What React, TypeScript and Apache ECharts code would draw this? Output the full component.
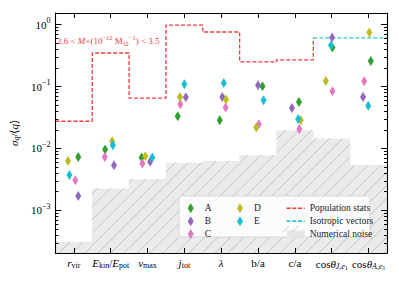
import React, { useEffect, useRef } from 'react';
import * as echarts from 'echarts';

// ---------- data ----------
const categoryLabels = [
  '{i|r}{s|vir}',
  '{i|E}{s|kin}{n|/}{i|E}{s|pot}',
  '{i|v}{s|max}',
  '{i|j}{s|tot}',
  '{i|λ}',
  '{n|b/a}',
  '{n|c/a}',
  '{n|cos}{i|θ}{si|J,e}{ss|1}',
  '{n|cos}{i|θ}{si|A,e}{ss|1}',
];
const seriesNames = ['A', 'B', 'C', 'D', 'E'];
const seriesColors = ['#2ca02c', '#9467bd', '#e377c2', '#bcbd22', '#17becf'];

const valuesA = [0.0073, 0.0096, 0.00716, 0.0332, 0.0286, 0.101, 0.0565, 0.426, 0.259];
const valuesB = [0.0017, 0.00538, 0.00608, 0.067, 0.068, 0.105, 0.0452, 0.617, 0.068];
const valuesC = [0.00308, 0.0073, 0.00573, 0.0518, 0.0458, 0.0247, 0.0207, 0.084, 0.122];
const valuesD = [0.0063, 0.0131, 0.0075, 0.068, 0.0617, 0.0218, 0.0286, 0.123, 0.743];
const valuesE = [0.00371, 0.0113, 0.00716, 0.109, 0.114, 0.06, 0.03, 0.464, 0.049];

// horizontal jitter of each point within its category (category units)
const jitterA = [0.12, -0.15, -0.16, -0.18, -0.04, 0.12, 0.11, 0.02, 0.06];
const jitterB = [0.12, 0.09, 0.07, 0.04, 0.03, 0.0, -0.08, 0.01, -0.15];
const jitterC = [0.04, -0.16, -0.14, -0.11, 0.12, 0.02, 0.12, 0.02, -0.12];
const jitterD = [-0.16, 0.04, -0.06, -0.12, 0.13, -0.05, 0.16, -0.16, 0.02];
const jitterE = [-0.12, 0.06, 0.13, 0.0, 0.07, 0.15, 0.09, -0.02, -0.01];

const populationStats = [0.0275, 0.348, 0.065, 0.98, 0.76, 0.25, 0.27];
const isotropicVectors = [0.61, 0.61];
const numericalNoise = [3.12e-4, 2.26e-3, 3.2e-3, 5.9e-3, 6.3e-3, 7.8e-3, 0.0197, 0.0145, 5.4e-3];

const yDecades = [-3, -2, -1, 0];
const yMinValue = 2.05e-4;
const yMaxValue = 1.54;

// ---------- helpers ----------
const L = Math.log10;
const yMin = L(yMinValue);
const yMax = L(yMaxValue);
const catIdx = categoryLabels.map((_, i) => i);
const minorTicks: number[] = [];
for (let d = -4; d <= 0; d++) {
  for (let k = 2; k <= 9; k++) {
    const v = L(k * Math.pow(10, d));
    if (v > yMin && v < yMax) minorTicks.push(v);
  }
}
const SERIF = 'Liberation Serif';
const diamond = 'path://M3,0L6,5L3,10L0,5Z';
const dashIcon = 'path://M0,0H4V1.6H0Z M5.6,0H9.6V1.6H5.6Z M11.2,0H15.2V1.6H11.2Z M16.8,0H18V1.6H16.8Z';

const xRich = {
  i: { fontFamily: SERIF, fontStyle: 'italic', fontSize: 11, color: '#000' },
  n: { fontFamily: SERIF, fontSize: 11, color: '#000' },
  s: { fontFamily: SERIF, fontSize: 8, color: '#000', padding: [4, 0, 0, 0] },
  si: { fontFamily: SERIF, fontStyle: 'italic', fontSize: 8, color: '#000', padding: [4, 0, 0, 0] },
  ss: { fontFamily: SERIF, fontSize: 5.5, color: '#000', padding: [8, 0, 0, 0] },
};
const yRich = {
  n: { fontFamily: SERIF, fontSize: 11, color: '#000' },
  p: { fontFamily: SERIF, fontSize: 8, color: '#000', padding: [0, 0, 8, 0] },
};

const valuesList = [valuesA, valuesB, valuesC, valuesD, valuesE];
const jitterList = [jitterA, jitterB, jitterC, jitterD, jitterE];

export default function App() {
  const ref = useRef<HTMLDivElement>(null);
  useEffect(() => {
    if (!ref.current) return;
    const chart = echarts.init(ref.current, null, { renderer: 'svg' });

    const popData: number[][] = [];
    populationStats.forEach((v, i) => {
      popData.push([i - 0.5, L(v)], [i + 0.5, L(v)]);
    });
    popData.push([populationStats.length - 0.5, L(isotropicVectors[0])]);
    const isoData = isotropicVectors.map((v, j) => {
      const i = populationStats.length + j;
      return [[i - 0.5, L(v)], [i + 0.5, L(v)]];
    }).flat();

    const scatterSeries = seriesNames.map((name, s) => ({
      type: 'scatter',
      name,
      symbol: diamond,
      symbolSize: [6, 10],
      itemStyle: { color: seriesColors[s], opacity: 1 },
      z: 3,
      data: valuesList[s].map((v, i) => [i + jitterList[s][i], L(v)]),
    }));

    const tickStyle = { color: '#000', width: 1 };
    const axisLine = { show: true, onZero: false, lineStyle: { color: '#000', width: 1.1 } };
    const noLine = { show: false, onZero: false };

    const option: any = {
      animation: false,
      grid: { left: 52, right: 12, top: 13, bottom: 29, containLabel: false },
      xAxis: [
        {
          type: 'value', min: -0.5, max: 8.5, position: 'bottom', z: 4,
          axisLine, splitLine: { show: false },
          axisTick: { show: true, inside: true, length: 5, customValues: catIdx, lineStyle: tickStyle },
          axisLabel: {
            customValues: catIdx, margin: 4,
            formatter: (v: number) => categoryLabels[Math.round(v)] ?? '',
            rich: xRich,
          },
        },
        {
          type: 'value', min: -0.5, max: 8.5, position: 'top', z: 4,
          axisLine, splitLine: { show: false },
          axisTick: { show: true, inside: true, length: 5, customValues: catIdx, lineStyle: tickStyle },
          axisLabel: { show: false, customValues: catIdx },
        },
      ],
      yAxis: [
        {
          type: 'value', min: yMin, max: yMax, position: 'left', z: 4,
          axisLine, splitLine: { show: false },
          axisTick: { show: true, inside: true, length: 6, customValues: yDecades, lineStyle: tickStyle },
          axisLabel: {
            customValues: yDecades, margin: 5,
            formatter: (v: number) => `{n|10}{p|${Math.round(v) === 0 ? '0' : '−' + Math.abs(Math.round(v))}}`,
            rich: yRich,
          },
          name: '{i|σ}{s|q}{n|/⟨}{i|q}{n|⟩}',
          nameLocation: 'middle',
          nameGap: 28,
          nameTextStyle: {
            rich: {
              i: { fontFamily: SERIF, fontStyle: 'italic', fontSize: 11, color: '#000' },
              n: { fontFamily: SERIF, fontSize: 11, color: '#000' },
              s: { fontFamily: SERIF, fontStyle: 'italic', fontSize: 8, color: '#000', padding: [5, 0, 0, 0] },
            },
          },
        },
        {
          type: 'value', min: yMin, max: yMax, position: 'left', z: 4,
          axisLine: noLine, splitLine: { show: false },
          axisTick: { show: true, inside: true, length: 3, customValues: minorTicks, lineStyle: tickStyle },
          axisLabel: { show: false, customValues: minorTicks },
        },
        {
          type: 'value', min: yMin, max: yMax, position: 'right', z: 4,
          axisLine, splitLine: { show: false },
          axisTick: { show: true, inside: true, length: 6, customValues: yDecades, lineStyle: tickStyle },
          axisLabel: { show: false, customValues: yDecades },
        },
        {
          type: 'value', min: yMin, max: yMax, position: 'right', z: 4,
          axisLine: noLine, splitLine: { show: false },
          axisTick: { show: true, inside: true, length: 3, customValues: minorTicks, lineStyle: tickStyle },
          axisLabel: { show: false, customValues: minorTicks },
        },
      ],
      legend: [
        {
          orient: 'vertical', left: 182.7, top: 198.3, itemWidth: 18, itemHeight: 10, itemGap: 2.85,
          textStyle: { fontFamily: SERIF, fontSize: 9.5, color: '#222', lineHeight: 10 },
          data: ['A', 'B', 'C'].map((n) => ({ name: n, icon: diamond })), z: 6,
        },
        {
          orient: 'vertical', left: 232, top: 198.3, itemWidth: 18, itemHeight: 10, itemGap: 2.85,
          textStyle: { fontFamily: SERIF, fontSize: 9.5, color: '#222', lineHeight: 10 },
          data: ['D', 'E'].map((n) => ({ name: n, icon: diamond })), z: 6,
        },
        {
          orient: 'vertical', left: 281.7, top: 198.3, itemWidth: 18, itemHeight: 10, itemGap: 2.85,
          textStyle: { fontFamily: SERIF, fontSize: 9.5, color: '#222', lineHeight: 10 },
          data: [
            { name: 'Population stats', icon: dashIcon },
            { name: 'Isotropic vectors', icon: dashIcon },
            { name: 'Numerical noise', icon: 'path://M0,0H18V7H0Z' },
          ], z: 6,
        },
      ],
      graphic: [
        {
          type: 'rect', z: 5, silent: true,
          shape: { x: 179, y: 196, width: 191, height: 41, r: 2 },
          style: { fill: 'rgba(255,255,255,0.85)', stroke: '#cfcfcf', lineWidth: 0.8 },
        },
        {
          type: 'line', z: 7, silent: true,
          shape: { x1: 283, y1: 232, x2: 289.5, y2: 225.5 },
          style: { stroke: '#aaa', lineWidth: 0.6 },
        },
        {
          type: 'line', z: 7, silent: true,
          shape: { x1: 292, y1: 232, x2: 298.5, y2: 225.5 },
          style: { stroke: '#aaa', lineWidth: 0.6 },
        },
        {
          type: 'text', z: 7, silent: true, x: 57, y: 41,
          style: {
            text: '{n|2.6 < }{i|M}{n|×(10}{p|−12}{n| M}{b|⊙}{p|−1}{n|) < 3.5}',
            verticalAlign: 'middle',
            rich: {
              n: { fontFamily: SERIF, fontSize: 9, fill: '#ee3b3b' },
              i: { fontFamily: SERIF, fontStyle: 'italic', fontSize: 9, fill: '#ee3b3b' },
              p: { fontFamily: SERIF, fontSize: 6.5, fill: '#ee3b3b', padding: [0, 0, 7, 0] },
              b: { fontFamily: SERIF, fontSize: 6.5, fill: '#ee3b3b', padding: [5, 0, 0, 0] },
            },
          },
        },
      ],
      series: [
        {
          type: 'custom',
          name: 'Numerical noise',
          z: 1,
          itemStyle: { color: '#e6e6e6' },
          data: numericalNoise.map((v, i) => [i, L(v)]),
          encode: { x: 0, y: 1 },
          renderItem: (params: any, api: any) => {
            const i = api.value(0);
            const v = api.value(1);
            const tl = api.coord([i - 0.5, v]);
            const br = api.coord([i + 0.5, yMin]);
            const x0 = tl[0], y0 = tl[1], x1 = br[0], y1 = br[1];
            const children: any[] = [
              { type: 'rect', shape: { x: x0 - 0.3, y: y0, width: x1 - x0 + 0.6, height: y1 - y0 }, style: { fill: '#ebebeb' } },
            ];
            const sp = 13;
            for (let c = Math.ceil((x0 + y0) / sp) * sp; c <= x1 + y1; c += sp) {
              const xa = Math.max(x0, c - y1);
              const xb = Math.min(x1, c - y0);
              if (xb > xa) {
                children.push({
                  type: 'line',
                  shape: { x1: xa, y1: c - xa, x2: xb, y2: c - xb },
                  style: { stroke: '#a8a8a8', lineWidth: 0.6 },
                });
              }
            }
            return { type: 'group', children };
          },
        },
        {
          type: 'line', name: 'Population stats', z: 2, symbol: 'none',
          itemStyle: { color: '#ee3b3b' },
          lineStyle: { color: '#ee3b3b', width: 1.3, type: [4, 2] },
          data: popData,
        },
        {
          type: 'line', name: 'Isotropic vectors', z: 2, symbol: 'none',
          itemStyle: { color: '#2cc6c6' },
          lineStyle: { color: '#2cc6c6', width: 1.3, type: [4, 2] },
          data: isoData,
        },
        ...scatterSeries,
      ],
    };
    chart.setOption(option);
    return () => chart.dispose();
  }, []);
  return <div ref={ref} style={{ position: 'absolute', left: 0, top: 0, width: 399, height: 282 }} />;
}
